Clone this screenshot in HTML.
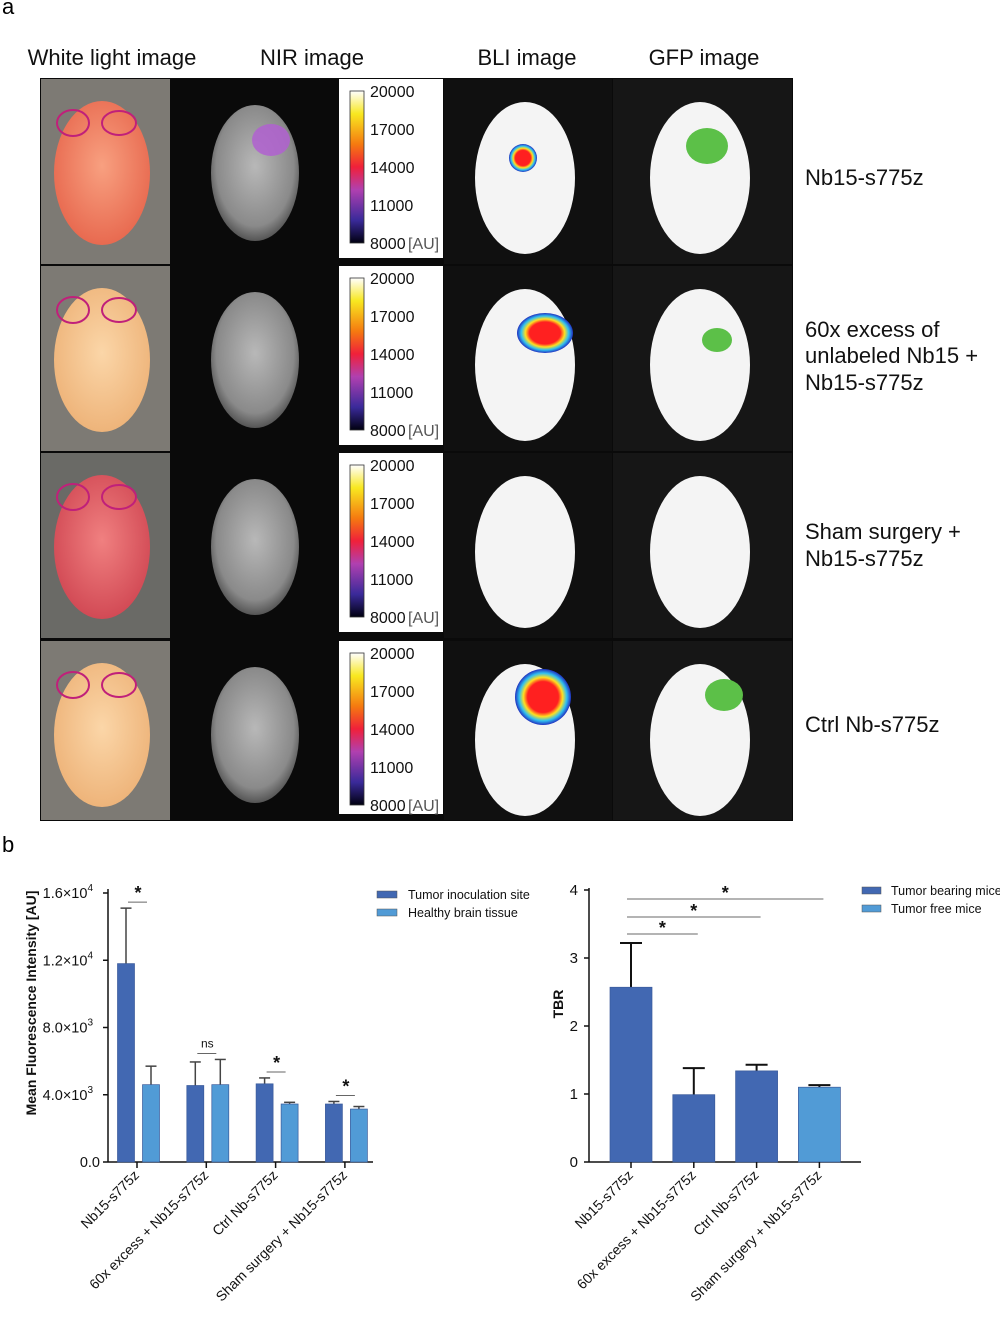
<!DOCTYPE html>
<html><head><meta charset="utf-8"><style>
body{margin:0;background:#fff;font-family:"Liberation Sans",sans-serif}
svg{display:block}
</style></head><body>
<svg id="fig" width="1000" height="1319" viewBox="0 0 1000 1319" xmlns="http://www.w3.org/2000/svg">
<defs>
<linearGradient id="cbar" x1="0" y1="1" x2="0" y2="0">
<stop offset="0" stop-color="#000010"/><stop offset="0.15" stop-color="#3a2a9a"/><stop offset="0.35" stop-color="#b040b0"/><stop offset="0.5" stop-color="#f0203a"/><stop offset="0.65" stop-color="#f57a10"/><stop offset="0.85" stop-color="#f8e820"/><stop offset="1" stop-color="#ffffff"/>
</linearGradient>
<radialGradient id="gray" cx="0.5" cy="0.45" r="0.55"><stop offset="0" stop-color="#b8b8b8"/><stop offset="0.8" stop-color="#8a8a8a"/><stop offset="1" stop-color="#555"/></radialGradient>
<radialGradient id="hot" cx="0.5" cy="0.5" r="0.5"><stop offset="0" stop-color="#ff2020"/><stop offset="0.55" stop-color="#ff2020"/><stop offset="0.7" stop-color="#ffe020"/><stop offset="0.85" stop-color="#30c0f0"/><stop offset="1" stop-color="#2030c0"/></radialGradient>
<radialGradient id="pink" cx="0.5" cy="0.45" r="0.55"><stop offset="0" stop-color="#f8a080"/><stop offset="1" stop-color="#e86a50"/></radialGradient>
<radialGradient id="tan" cx="0.5" cy="0.45" r="0.55"><stop offset="0" stop-color="#fbd6a8"/><stop offset="1" stop-color="#eeb47a"/></radialGradient>
<radialGradient id="red" cx="0.5" cy="0.45" r="0.55"><stop offset="0" stop-color="#f08080"/><stop offset="1" stop-color="#d24a55"/></radialGradient>
</defs>
<text x="2" y="14" font-size="22">a</text>
<text x="2" y="852" font-size="22">b</text>
<g font-size="22" fill="#111">
<text x="112" y="65" text-anchor="middle">White light image</text>
<text x="312" y="65" text-anchor="middle">NIR image</text>
<text x="527" y="65" text-anchor="middle">BLI image</text>
<text x="704" y="65" text-anchor="middle">GFP image</text>
</g>
<rect x="40" y="78" width="753" height="743" fill="#0a0a0a"/>
<g id="rows"></g>
<g font-size="22" fill="#111">
<text x="805" y="185">Nb15-s775z</text>
<text x="805" y="337">60x excess of</text>
<text x="805" y="363">unlabeled Nb15 +</text>
<text x="805" y="390">Nb15-s775z</text>
<text x="805" y="539">Sham surgery +</text>
<text x="805" y="566">Nb15-s775z</text>
<text x="805" y="732">Ctrl Nb-s775z</text>
</g>
<g id="chart1"></g>
<g id="chart2"></g>
</svg>
<script>
const NS="http://www.w3.org/2000/svg";
function mk(p,tag,a,txt){const e=document.createElementNS(NS,tag);for(const k in a)e.setAttribute(k,a[k]);if(txt!==undefined)e.textContent=txt;p.appendChild(e);return e;}
const rowsG=document.getElementById('rows');
const rowTops=[78,265,452,640];
const wlFill=['url(#pink)','url(#tan)','url(#red)','url(#tan)'];
const bliSpot=[[523,158,14],[545,333,20],null,[543,697,28]];
const gfpSpot=[[707,146,18],[717,340,12],null,[724,695,16]];
rowTops.forEach((t,i)=>{
 const h=(i==3?181:187);
 const g=mk(rowsG,'g',{});
 
 
 mk(g,'rect',{x:41,y:t+1,width:129,height:h-2,fill:i==2?'#6a6a66':'#7d7a74'});
 mk(g,'ellipse',{cx:102,cy:t+95,rx:48,ry:72,fill:wlFill[i]});
 mk(g,'ellipse',{cx:73,cy:t+45,rx:16,ry:13,fill:'none',stroke:'#c0207a','stroke-width':2});
 mk(g,'ellipse',{cx:119,cy:t+45,rx:17,ry:12,fill:'none',stroke:'#c0207a','stroke-width':2});
 mk(g,'ellipse',{cx:255,cy:t+95,rx:44,ry:68,fill:'url(#gray)'});
 if(i==0)mk(g,'ellipse',{cx:271,cy:t+62,rx:19,ry:16,fill:'#b060d0',opacity:0.85});
 const cb=mk(g,'g',{});
 
 
 mk(cb,'rect',{x:339,y:t+1,width:104,height:h-8,fill:'#fff'});
 mk(cb,'rect',{x:350,y:t+13,width:14,height:152,fill:'url(#cbar)',stroke:'#333','stroke-width':0.8});
 ['20000','17000','14000','11000','8000'].forEach((s,j)=>{
  mk(cb,'text',{x:370,y:t+19+j*38,'font-size':16,fill:'#111'},s);
 });
 mk(cb,'text',{x:408,y:t+171,'font-size':16,fill:'#555'},'[AU]');
 mk(g,'rect',{x:444,y:t+1,width:168,height:h-2,fill:'#101010'});
 mk(g,'ellipse',{cx:525,cy:t+100,rx:50,ry:76,fill:'#f4f4f4'});
 if(bliSpot[i]){const s=bliSpot[i];mk(g,'ellipse',{cx:s[0],cy:s[1],rx:s[2]+(i==1?8:0),ry:s[2],fill:'url(#hot)'});}
 mk(g,'rect',{x:613,y:t+1,width:179,height:h-2,fill:'#161616'});
 mk(g,'ellipse',{cx:700,cy:t+100,rx:50,ry:76,fill:'#f4f4f4'});
 if(gfpSpot[i]){const s=gfpSpot[i];mk(g,'ellipse',{cx:s[0],cy:s[1],rx:s[2]+3,ry:s[2],fill:'#5cc048'});}
});

// ---- Chart 1 data ----
const cats1=['Nb15-s775z','60x excess + Nb15-s775z','Ctrl Nb-s775z','Sham surgery + Nb15-s775z'];
const tumorVals=[11800,4550,4650,3450];
const tumorErr=[3300,1400,350,150];
const healthyVals=[4600,4600,3450,3150];
const healthyErr=[1100,1500,100,150];
const sig1=['*','ns','*','*'];
const ticks1=[0,4000,8000,12000,16000];
const tickLabels1=['0.0','4.0×10','8.0×10','1.2×10','1.6×10'];
const tickExp1=['','3','3','4','4'];
// ---- Chart 2 data ----
const cats2=['Nb15-s775z','60x excess + Nb15-s775z','Ctrl Nb-s775z','Sham surgery + Nb15-s775z'];
const tbrVals=[2.57,0.99,1.34,1.10];
const tbrErr=[0.65,0.39,0.09,0.03];
const tbrFree=[false,false,false,true];
const ticks2=[0,1,2,3,4];
const sig2=[[0,1],[0,2],[0,3]];

const DARK='#4268b2',LIGHT='#519bd6';
(function(){
 const g=document.getElementById('chart1');
 
 
 const x0=108,xEnd=373,yB=1162,yT=893,max=16000;
 const y=v=>yB-(v/max)*(yB-yT);
 const cx=i=>137+i*69.3;
 mk(g,'line',{x1:x0,y1:yT-4,x2:x0,y2:yB,stroke:'#111','stroke-width':1.5});
 mk(g,'line',{x1:x0,y1:yB,x2:xEnd,y2:yB,stroke:'#111','stroke-width':1.5});
 ticks1.forEach((v,i)=>{
  mk(g,'line',{x1:x0-5,y1:y(v),x2:x0,y2:y(v),stroke:'#111','stroke-width':1.5});
  const t=mk(g,'text',{x:x0-8,y:y(v)+5,'font-size':14.5,'text-anchor':'end',fill:'#111'});
  
  
  if(tickExp1[i]){t.textContent=tickLabels1[i];mk(t,'tspan',{dy:-7,'font-size':10},tickExp1[i]);t.setAttribute('x',x0-15);}
  else t.textContent=tickLabels1[i];
 });
 const yl=mk(g,'text',{transform:`translate(36,1003) rotate(-90)`,'font-size':14,'font-weight':'bold','text-anchor':'middle',fill:'#111'},'Mean Fluorescence Intensity [AU]');
 
 
 cats1.forEach((c,i)=>{
  const c0=cx(i);
  [[tumorVals[i],tumorErr[i],DARK,-11],[healthyVals[i],healthyErr[i],LIGHT,14]].forEach((b,k)=>{
   const bx=c0+b[3]-8.5;
   mk(g,'line',{x1:bx+8.5,y1:y(b[0]),x2:bx+8.5,y2:y(b[0]+b[1]),stroke:'#444','stroke-width':1.5});
   mk(g,'line',{x1:bx+3,y1:y(b[0]+b[1]),x2:bx+14,y2:y(b[0]+b[1]),stroke:'#444','stroke-width':1.5});
   const r=mk(g,'rect',{x:bx,y:y(b[0]),width:17,height:yB-y(b[0]),fill:b[2],stroke:'#3a5a9a','stroke-width':0.7});
   
   
  });
  const top=Math.max(tumorVals[i]+tumorErr[i],healthyVals[i]+healthyErr[i]);
  const sy=y(top)-6;
  mk(g,'line',{x1:c0-9,y1:sy,x2:c0+10,y2:sy,stroke:'#666','stroke-width':1});
  const isNs=sig1[i]=='ns';
  const st=mk(g,'text',{x:c0+1,y:isNs?sy-6:sy+3,'font-size':isNs?12:18,'font-weight':isNs?'normal':'bold','text-anchor':'middle',fill:'#111'},sig1[i]);
  if(!isNs)st.setAttribute('y',sy-3);
  
  
  mk(g,'line',{x1:c0,y1:yB,x2:c0,y2:yB+6,stroke:'#111','stroke-width':1.5});
  const xl=mk(g,'text',{transform:`translate(${c0+3},${yB+14}) rotate(-45)`,'font-size':14,'text-anchor':'end',fill:'#111'},c);
  
  
 });
 const lg=mk(g,'g',{});
 
 
 mk(lg,'rect',{x:377,y:891,width:20,height:7,fill:DARK,stroke:'#555','stroke-width':0.5});
 mk(lg,'text',{x:408,y:899,'font-size':12.5,fill:'#111'},'Tumor inoculation site');
 mk(lg,'rect',{x:377,y:909,width:20,height:7,fill:LIGHT,stroke:'#555','stroke-width':0.5});
 mk(lg,'text',{x:408,y:917,'font-size':12.5,fill:'#111'},'Healthy brain tissue');
})();
(function(){
 const g=document.getElementById('chart2');
 
 
 const x0=589,xEnd=861,yB=1162,yT=890,max=4;
 const y=v=>yB-(v/max)*(yB-yT);
 const cx=i=>631+i*62.8;
 mk(g,'line',{x1:x0,y1:yT-2,x2:x0,y2:yB,stroke:'#111','stroke-width':1.5});
 mk(g,'line',{x1:x0,y1:yB,x2:xEnd,y2:yB,stroke:'#111','stroke-width':1.5});
 ticks2.forEach(v=>{
  mk(g,'line',{x1:x0-5,y1:y(v),x2:x0,y2:y(v),stroke:'#111','stroke-width':1.5});
  const t=mk(g,'text',{x:x0-11,y:y(v)+5,'font-size':15,'text-anchor':'end',fill:'#111'},String(v));
  
  
 });
 const yl=mk(g,'text',{transform:`translate(563,1004) rotate(-90)`,'font-size':14,'font-weight':'bold','text-anchor':'middle',fill:'#111'},'TBR');
 
 
 cats2.forEach((c,i)=>{
  const c0=cx(i),v=tbrVals[i],e=tbrErr[i];
  mk(g,'line',{x1:c0,y1:y(v),x2:c0,y2:y(v+e),stroke:'#111','stroke-width':2});
  mk(g,'line',{x1:c0-11,y1:y(v+e),x2:c0+11,y2:y(v+e),stroke:'#111','stroke-width':2});
  const r=mk(g,'rect',{x:c0-21,y:y(v),width:42,height:yB-y(v),fill:tbrFree[i]?LIGHT:DARK,stroke:'#3a5a9a','stroke-width':0.7});
  
  
  mk(g,'line',{x1:c0,y1:yB,x2:c0,y2:yB+6,stroke:'#111','stroke-width':1.5});
  const xl=mk(g,'text',{transform:`translate(${c0+3},${yB+14}) rotate(-45)`,'font-size':14,'text-anchor':'end',fill:'#111'},c);
  
  
 });
 const ly=[934,917,899];
 sig2.forEach((p,k)=>{
  const a=cx(p[0])-4,b=cx(p[1])+4;
  mk(g,'line',{x1:a,y1:ly[k],x2:b,y2:ly[k],stroke:'#888','stroke-width':1.2});
  const st=mk(g,'text',{x:(a+b)/2,y:ly[k],'font-size':18,'font-weight':'bold','text-anchor':'middle',fill:'#111'},'*');
  
  
 });
 const lg=mk(g,'g',{});
 
 
 mk(lg,'rect',{x:862,y:887,width:19,height:7,fill:DARK,stroke:'#555','stroke-width':0.5});
 mk(lg,'text',{x:891,y:895,'font-size':12.5,fill:'#111'},'Tumor bearing mice');
 mk(lg,'rect',{x:862,y:905,width:19,height:7,fill:LIGHT,stroke:'#555','stroke-width':0.5});
 mk(lg,'text',{x:891,y:913,'font-size':12.5,fill:'#111'},'Tumor free mice');
})();
</script>
</body></html>
